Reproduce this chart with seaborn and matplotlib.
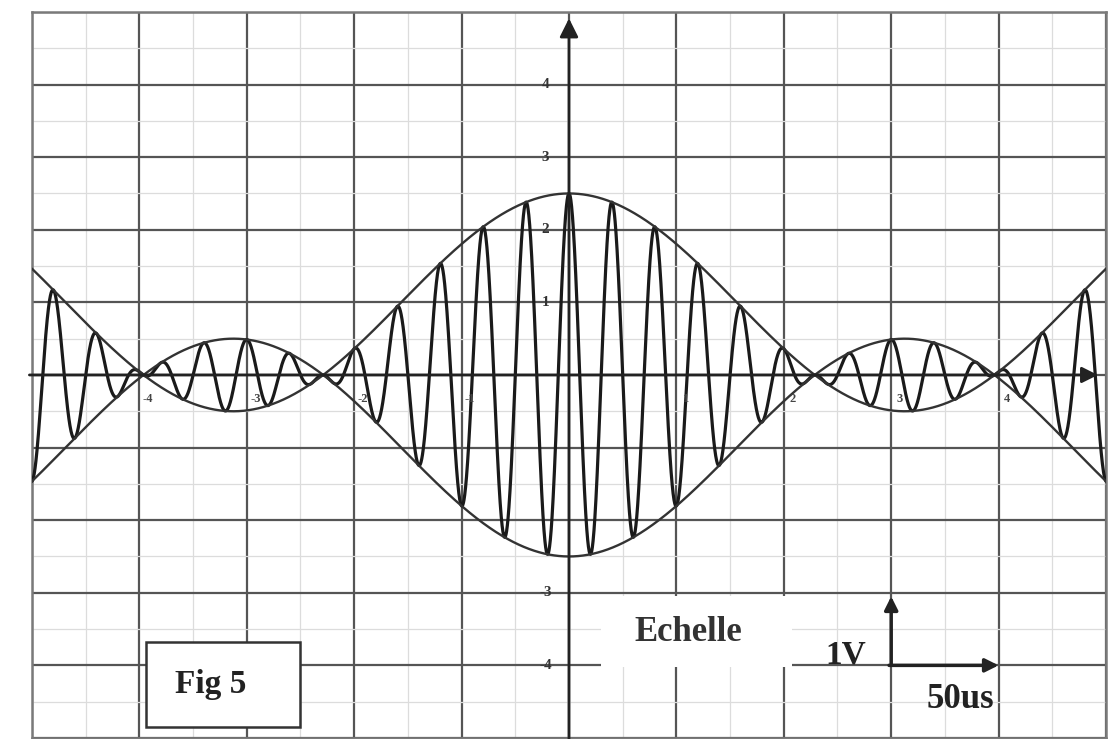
import numpy as np
import pandas as pd
import matplotlib
matplotlib.use("Agg")
import matplotlib.pyplot as plt
import seaborn as sns
from matplotlib.patches import Rectangle

# ---- values (units: screen divisions) ----
x_limits = [-5, 5]
y_limits = [-5, 5]
carrier_amplitude = 1.0      # mean envelope level (div)
modulation_index = 1.5       # over-modulated: envelope max 2.5, min -0.5
carrier_period = 0.4         # div (20 us at 50 us/div)
modulation_period = 6.25     # div
n_samples = 6000

x_tick_values = [-4, -3, -2, -1, 1, 2, 3, 4]
x_tick_labels = ["-4", "-3", "-2", "-1", "1", "2", "3", "4"]
y_tick_values = [4, 3, 2, 1, -3, -4]
y_tick_labels = ["4", "3", "2", "1", "-3", "-4"]

title_label = "Fig 5"
scale_label = "Echelle"
volt_label = "1V"
time_label = "50us"

# ---- build the signal ----
t = np.linspace(x_limits[0], x_limits[1], n_samples)
envelope = carrier_amplitude * (1 + modulation_index * np.cos(2 * np.pi * t / modulation_period))
signal = envelope * np.cos(2 * np.pi * t / carrier_period)
df = pd.DataFrame({"t": t, "u": signal, "env_pos": envelope, "env_neg": -envelope})

sns.set_theme(style="white")
plt.rcParams["font.family"] = ["Liberation Serif", "DejaVu Serif"]

fig = plt.figure(figsize=(11.11, 7.39), dpi=100)
fig.patch.set_facecolor("white")
ax = fig.add_axes([0.0288, 0.0014, 0.9667, 0.9824])
ax.set_xlim(*x_limits)
ax.set_ylim(*y_limits)

# grid
ax.set_xticks(np.arange(-5, 6, 1))
ax.set_yticks(np.arange(-5, 6, 1))
ax.set_xticks(np.arange(-4.5, 5, 1), minor=True)
ax.set_yticks(np.arange(-4.5, 5, 1), minor=True)
ax.grid(which="major", color="#555555", lw=1.6)
ax.grid(which="minor", color="#dcdcdc", lw=0.9)
ax.set_axisbelow(True)
ax.tick_params(which="both", length=0, labelbottom=False, labelleft=False)
for s in ax.spines.values():
    s.set_color("#7a7a7a")
    s.set_linewidth(1.8)

# white patches (scale area, figure label box)
ax.add_patch(Rectangle((0.3, -4.02), 1.78, 0.97, facecolor="white", edgecolor="none", zorder=1.5))
ax.add_patch(Rectangle((-3.94, -4.85), 1.44, 1.17, facecolor="white", edgecolor="#333333", lw=1.8, zorder=1.6))

# signal and envelope
sns.lineplot(data=df, x="t", y="u", ax=ax, color="#1a1a1a", lw=2.3, sort=False, estimator=None, zorder=3)
sns.lineplot(data=df, x="t", y="env_pos", ax=ax, color="#333333", lw=1.7, sort=False, estimator=None, zorder=3)
sns.lineplot(data=df, x="t", y="env_neg", ax=ax, color="#333333", lw=1.7, sort=False, estimator=None, zorder=3)
ax.set_xlabel("")
ax.set_ylabel("")

# axes with arrows
ax.annotate("", xy=(0, 4.95), xytext=(0, -5.05),
            arrowprops=dict(arrowstyle="-|>", lw=2.0, color="#222222", mutation_scale=28), zorder=4)
ax.annotate("", xy=(4.95, 0), xytext=(-5.05, 0),
            arrowprops=dict(arrowstyle="-|>", lw=2.0, color="#222222", mutation_scale=24), zorder=4)

# tick labels
for v, lab in zip(y_tick_values, y_tick_labels):
    ax.text(-0.22, v, lab, ha="center", va="center", fontsize=11, fontweight="bold", color="#333333", zorder=5)
for v, lab in zip(x_tick_values, x_tick_labels):
    ax.text(v + 0.08, -0.33, lab, ha="center", va="center", fontsize=9, fontweight="bold", color="#444444", zorder=5)

# annotations
ax.text(-3.34, -4.27, title_label, ha="center", va="center", fontsize=24, fontweight="bold", color="#222222", zorder=5)
ax.text(1.11, -3.55, scale_label, ha="center", va="center", fontsize=25, fontweight="bold", color="#333333", zorder=5)
ax.text(2.58, -3.86, volt_label, ha="center", va="center", fontsize=24, fontweight="bold", color="#222222", zorder=5)
ax.text(3.64, -4.47, time_label, ha="center", va="center", fontsize=25, fontweight="bold", color="#222222", zorder=5)
ax.annotate("", xy=(3.0, -3.05), xytext=(3.0, -4.0),
            arrowprops=dict(arrowstyle="-|>", lw=2.5, color="#222222", mutation_scale=20, shrinkA=0, shrinkB=0), zorder=5)
ax.annotate("", xy=(4.0, -4.0), xytext=(2.98, -4.0),
            arrowprops=dict(arrowstyle="-|>", lw=2.5, color="#222222", mutation_scale=20, shrinkA=0, shrinkB=0), zorder=5)

fig.savefig("out.png", dpi=100, facecolor="white")
